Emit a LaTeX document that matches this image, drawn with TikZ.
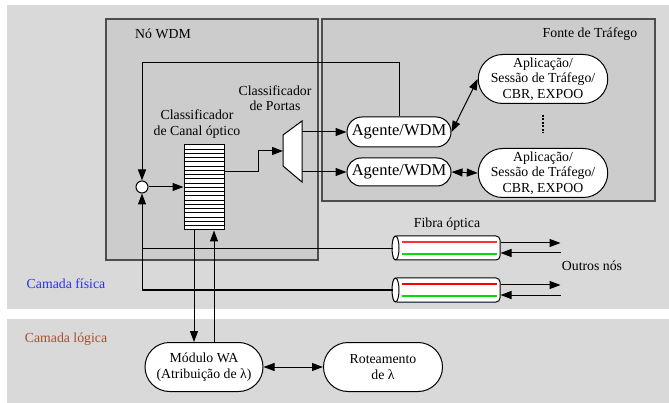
\documentclass[tikz,border=0pt]{standalone}
\usepackage{fontspec}
\setmainfont{Liberation Serif}
\usetikzlibrary{shapes.misc,arrows.meta,calc}
\definecolor{bandgray}{HTML}{D9D9D9}
\definecolor{boxgray}{HTML}{CCCCCC}
\definecolor{edgegray}{HTML}{4D4D4D}
\definecolor{fisica}{HTML}{2B2BFF}
\definecolor{logica}{HTML}{A0522D}
\definecolor{fibred}{HTML}{FF3030}
\definecolor{fibgreen}{HTML}{00DD00}

\begin{document}
\begin{tikzpicture}[x=1pt,y=-1pt,
  every node/.style={font=\fontsize{13.8}{15.5}\selectfont},
  pill/.style={draw, rounded rectangle, fill=white, line width=1pt, inner sep=0pt, align=center},
  fiber/.style={draw, rectangle, rounded corners=4pt, fill=white, line width=1pt, inner sep=0pt, minimum width=107pt, minimum height=24pt},
  arr/.style={-{Triangle[length=11pt,width=8pt]}, line width=1pt},
  biarr/.style={{Triangle[length=11pt,width=8pt]}-{Triangle[length=11pt,width=8pt]}, line width=1pt},
  area/.style={fill=boxgray, draw=edgegray, line width=1.5pt}]
\useasboundingbox (0,0) rectangle (669,403);
% camadas
\fill[bandgray] (7,5) rectangle (669,309);
\fill[bandgray] (7,319) rectangle (669,403);
\draw[area] (106,19) rectangle (318,260);
\draw[area] (322,19) rectangle (655,201);
\node (lbl-no) at (163,34) {Nó WDM};
\node (lbl-fonte) at (590,34) {Fonte de Tráfego};
\node[text=fisica] (lbl-fis) at (66,284) {Camada física};
\node[text=logica] (lbl-log) at (66,339) {Camada lógica};

% no WDM
\node[draw, circle, fill=white, line width=1pt, minimum size=12pt, inner sep=0pt] (mux) at (142,187) {};
\node[draw, fill=white, line width=1pt, minimum width=40pt, minimum height=85pt, inner sep=0pt] (buf) at (204,187.5) {};
\foreach \k in {1,...,19}
  \draw ($(buf.north west)+(0,\k*4.25)$) -- ($(buf.north east)+(0,\k*4.25)$);
\node[align=center] (lbl-canal) at (197,124) {Classificador\\de Canal óptico};
\draw[fill=white, line width=1pt] (283,135) -- (302,121) -- (302,182) -- (283,166) -- cycle;
\coordinate (dmx-in) at (283,151);
\coordinate (dmx-o1) at (302,132);
\coordinate (dmx-o2) at (302,172);
\node[align=center] (lbl-portas) at (275,98) {Classificador\\de Portas};

% fonte de trafego
\node[pill, minimum width=104pt, minimum height=30pt, font=\fontsize{16.5}{18}\selectfont] (ag1) at (399,132) {Agente/WDM};
\node[pill, minimum width=104pt, minimum height=28pt, font=\fontsize{16.5}{18}\selectfont] (ag2) at (399,172) {Agente/WDM};
\node[pill, minimum width=109pt, minimum height=49pt] (app1) at (543,79) {Aplicação/\\Sessão de Tráfego/\\CBR, EXPOO};
\node[pill, minimum width=109pt, minimum height=49pt] (app2) at (543,173) {Aplicação/\\Sessão de Tráfego/\\CBR, EXPOO};
\draw[line width=1.5pt, dash pattern=on 2pt off 1.5pt] ($(app1.south)+(0,11)$) -- ($(app2.north)+(0,-15)$);

% fibras
\node[fiber] (f1) at (446.5,248) {};
\node[fiber] (f2) at (446.5,290) {};
\foreach \f/\r in {f1/fibred,f2/red} {
  \draw[fill=white, line width=1pt] ($(\f.west)+(3,0)$) ellipse [x radius=3.5, y radius=12];
  \draw[\r, line width=1.2pt] ($(\f.west)+(9,-6)$) -- ($(\f.east)+(-4,-6)$);
  \draw[fibgreen, line width=1.2pt] ($(\f.west)+(9,6)$) -- ($(\f.east)+(-4,6)$);
  \draw[arr] ($(\f.east)+(0,-5)$) -- ++(60,0);
  \draw[arr] ($(\f.east)+(60,5)$) -- ($(\f.east)+(0,5)$);
}
\node (lbl-fibra) at (447,224) {Fibra óptica};
\node (lbl-outros) at (592,266) {Outros nós};

% camada logica
\node[pill, minimum width=118pt, minimum height=49pt] (mod) at (204,367) {Módulo WA\\(Atribuição de λ)};
\node[pill, minimum width=119pt, minimum height=49pt] (rot) at (383,367) {Roteamento\\de λ};

% ligacoes
\coordinate (fb) at (142,63);
\draw[arr] (ag1.north) |- (fb) -- (mux.north);
\draw (f1.west) -- (f1.west -| mux);
\draw[arr] (f2.west) -| (mux.south);
\draw[arr] (mux) -- (buf.west |- mux);
\draw[arr] (buf.east |- dmx-o2) -| ($(dmx-in)+(-25,0)$) -- (dmx-in);
\draw[arr] (dmx-o1) -- (ag1.west);
\draw[arr] (dmx-o2) -- (ag2.west);
\draw[biarr] (ag1.east) -- (app1.west);
\draw[biarr] (ag2.east) -- (app2.west);
\draw[arr] ([xshift=-10pt]buf.south) -- ([xshift=-10pt]buf.south |- mod.north);
\draw[arr] ([xshift=10pt]mod.north) -- ([xshift=10pt]buf.south);
\draw[biarr] (mod.east) -- (rot.west);
\end{tikzpicture}
\end{document}
